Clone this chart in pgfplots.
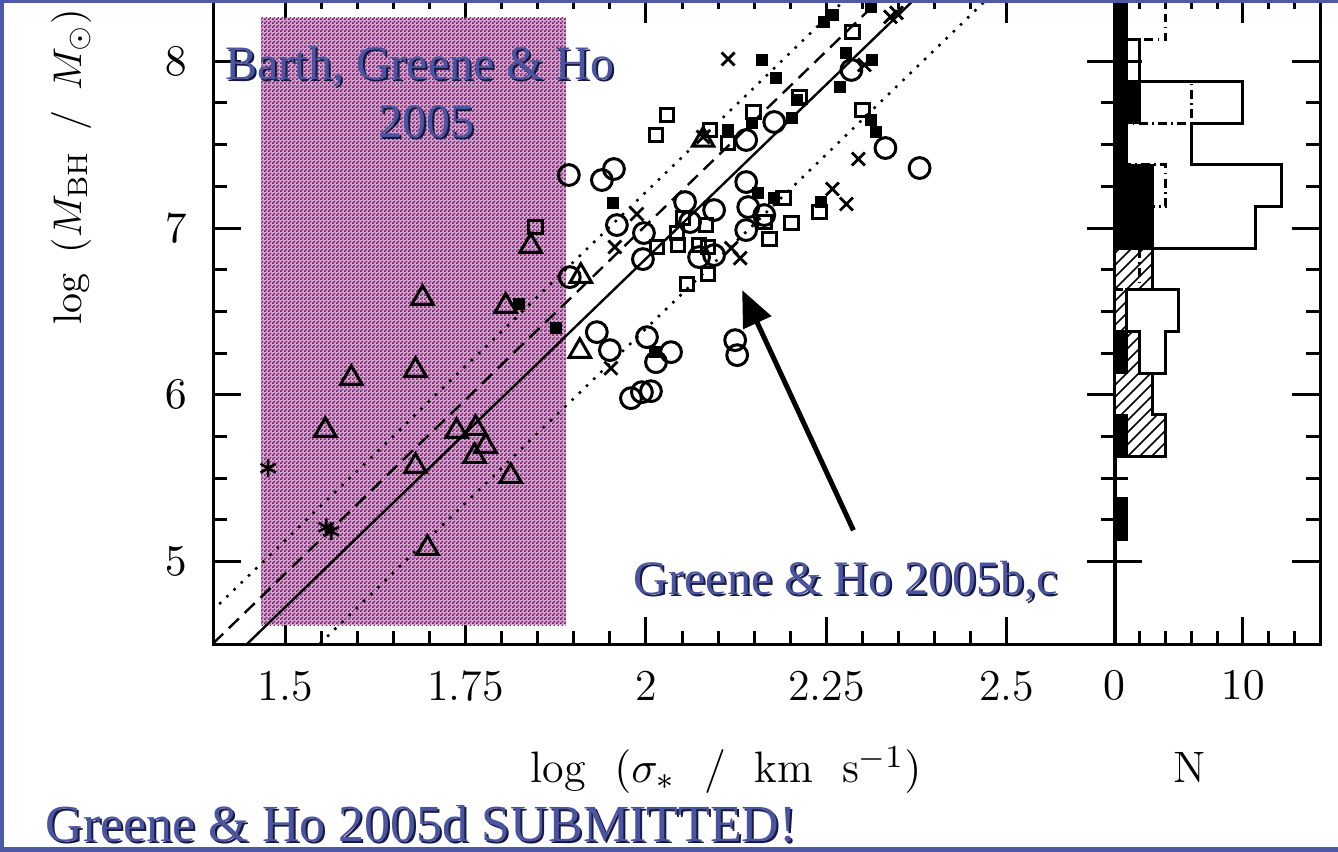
\documentclass[border=0pt]{standalone}
\usepackage{pgfplots}
\pgfplotsset{compat=1.18}
\usepackage{fontspec}
\newfontfamily\slidefont{Liberation Serif}
\usetikzlibrary{patterns,arrows.meta}

\definecolor{slideblue}{RGB}{80,88,168}
\definecolor{titleblue}{RGB}{74,84,160}
\definecolor{shadowblue}{RGB}{22,26,64}
\definecolor{checkbase}{RGB}{212,166,206}
\definecolor{checkpurple}{RGB}{118,22,108}

% fine two-colour checkerboard for the shaded sigma range
\pgfdeclarepatternformonly{finecheck}{\pgfpointorigin}{\pgfqpoint{1pt}{1pt}}{\pgfqpoint{1pt}{1pt}}{%
  \pgfpathrectangle{\pgfpointorigin}{\pgfqpoint{0.5pt}{0.5pt}}%
  \pgfpathrectangle{\pgfqpoint{0.5pt}{0.5pt}}{\pgfqpoint{0.5pt}{0.5pt}}%
  \pgfusepath{fill}}

\pgfplotsset{
  panel/.style={
    scale only axis, anchor=south west,
    ymin=4.5, ymax=8.4,
    axis line style={line width=0.75pt},
    every tick/.style={black, line width=0.75pt},
    major tick length=7pt, minor tick length=3.5pt,
    tick label style={font=\fontsize{11}{13}\selectfont},
    xticklabel style={yshift=-3pt},
    ytick={5,6,7,8}, minor y tick num=3,
  },
  circ/.style={only marks, mark=o, mark size=2.6pt, mark options={line width=0.75pt}},
  osq/.style={only marks, mark=square, mark size=1.7pt, mark options={line width=0.75pt}},
  fsq/.style={only marks, mark=square*, mark size=1.3pt, mark options={fill=black}},
  crs/.style={only marks, mark=x, mark size=2.3pt, mark options={line width=0.7pt}},
  tri/.style={only marks, mark=triangle, mark size=3.1pt, mark options={line width=0.75pt}},
  ast/.style={only marks, mark=asterisk, mark size=2.2pt, mark options={line width=0.65pt}},
  dots/.style={black, line width=0.9pt, line cap=round, dash pattern=on 0pt off 2.5pt},
}

\begin{document}
\begin{tikzpicture}
\useasboundingbox (0,0) rectangle (334.5pt,-213pt);
\fill[white] (0,0) rectangle (334.5pt,-213pt);
\begin{scope}
\clip (0,0) rectangle (334.5pt,-213pt);

% ---------------- main panel: M_BH - sigma ----------------
\begin{axis}[panel,
  at={(53.25pt,-161.25pt)}, width=225.5pt, height=162.6pt,
  xmin=1.4, xmax=2.65,
  xtick={1.5,1.75,2,2.25,2.5}, xticklabels={1.5,1.75,2,2.25,2.5},
  minor x tick num=4,
  yticklabel style={xshift=-3pt},
]
% shaded range of the low-mass sample
\addplot[draw=none, fill=checkbase, postaction={pattern=finecheck, pattern color=checkpurple}]
  coordinates {(1.4667,4.618) (1.8889,4.618) (1.8889,8.26) (1.4667,8.26)};

% fitted relation, offset relation and scatter band
\addplot[black, line width=0.6pt] coordinates {(1.40,4.309) (2.45,8.697)};
\addplot[black, line width=0.6pt, dash pattern=on 3.5pt off 2pt] coordinates {(1.40,4.509) (2.45,8.897)};
\addplot[dots] coordinates {(1.40,4.709) (2.45,9.097)};
\addplot[dots] coordinates {(1.40,3.889) (2.55,8.696)};

% filled squares
\addplot[fsq] coordinates {
(2.2597,8.278) (2.2472,8.236) (2.3125,8.326) (2.1611,8.008) (2.1806,7.900)
(2.2778,8.050) (2.3139,8.008) (2.2694,7.846) (2.2097,7.768) (2.1139,7.588)
(2.2028,7.660) (2.1472,7.630) (2.3125,7.648) (2.3194,7.576) (1.9542,7.150)
(2.1556,7.210) (2.1778,7.180) (2.2431,7.156) (2.0125,6.256) (1.8750,6.400)
(1.8236,6.544)};
% open squares
\addplot[osq] coordinates {
(2.0292,7.678) (2.0139,7.558) (2.2861,8.176) (2.2125,7.786) (2.0889,7.588)
(2.1139,7.510) (2.1486,7.696) (2.3000,7.708) (2.1903,7.180) (2.0514,7.060)
(2.0833,7.018) (2.0431,6.970) (2.1639,7.036) (2.2014,7.030) (2.2403,7.096)
(2.0153,6.886) (2.0444,6.898) (2.0736,6.898) (2.0861,6.886) (2.1708,6.934)
(2.0861,6.724) (2.0569,6.664) (1.8472,7.006)};
% open circles
\addplot[circ] coordinates {
(2.2847,7.948) (2.1389,7.528) (2.1778,7.636) (2.3319,7.480) (2.3792,7.360)
(2.1389,7.276) (1.8931,7.318) (1.9389,7.288) (1.9556,7.354) (2.0542,7.156)
(2.0944,7.108) (2.1417,7.126) (2.1639,7.078) (2.1389,6.988) (2.0611,7.036)
(1.9972,6.970) (1.9958,6.814) (1.9597,7.018) (2.0736,6.826) (2.0944,6.838)
(1.8944,6.706) (1.9319,6.376) (1.9500,6.268) (2.0014,6.346) (2.0139,6.196)
(2.0347,6.256) (2.1236,6.328) (2.1264,6.238) (1.9792,5.980) (1.9944,6.016)
(2.0069,6.022)};
% crosses
\addplot[crs] coordinates {
(2.1139,8.014) (2.3389,8.266) (2.3472,8.290) (2.3028,7.978) (2.0792,7.546)
(2.2944,7.414) (2.2583,7.234) (2.2778,7.144) (1.9875,7.084) (1.9569,6.886)
(2.1181,6.880) (2.1306,6.820) (1.9514,6.160)};
% triangles
\addplot[tri] coordinates {
(1.5917,6.100) (1.6806,6.148) (1.5556,5.788) (1.7375,5.782) (1.7639,5.800)
(1.7778,5.692) (1.7625,5.632) (1.6806,5.572) (1.8125,5.512) (1.6972,5.080)
(1.9083,6.262) (1.8056,6.532) (1.6903,6.580) (1.8403,6.892) (1.9097,6.712)
(2.0792,7.528)};
% asterisks
\addplot[ast] coordinates {(1.4764,5.560) (1.5569,5.206) (1.5639,5.182)};

% pointer to the new sample
\draw[line width=1.25pt, -{Triangle[length=9pt, width=7.5pt]}]
  (axis cs:2.2875,5.188) -- (axis cs:2.1333,6.628);
\end{axis}

% ---------------- side panel: histograms of log M_BH ----------------
\begin{axis}[panel,
  at={(278.5pt,-161.25pt)}, width=51.5pt, height=162.6pt,
  xmin=0, xmax=16,
  xtick={0,10}, minor xtick={2,4,6,8,12,14},
  yticklabels={},
]
% full sample (open outline)
\addplot[black, line width=0.75pt] coordinates {
(0,5.13) (1,5.13) (1,5.38) (0,5.38) (0,5.63) (1,5.63) (1,6.13) (4,6.13)
(4,6.38) (5,6.38) (5,6.63) (3,6.63) (3,6.88) (11,6.88) (11,7.13) (13,7.13)
(13,7.38) (6,7.38) (6,7.63) (10,7.63) (10,7.88) (2,7.88) (2,8.13) (1,8.13) (1,8.6)};
% hatched sample
\addplot[black, line width=0.75pt, fill=white, postaction={pattern=north east lines}] coordinates {
(0,5.63) (4,5.63) (4,5.88) (3,5.88) (3,6.13) (2,6.13) (2,6.38) (1,6.38)
(1,6.63) (3,6.63) (3,6.88) (0,6.88)} -- cycle;
% filled sample
\addplot[black, fill=black, line width=0.5pt] coordinates {
(0,5.13) (1,5.13) (1,5.38) (0,5.38) (0,5.63) (1,5.63) (1,5.88) (0,5.88)
(0,6.13) (1,6.13) (1,6.38) (0,6.38) (0,6.88) (3,6.88) (3,7.38) (1,7.38)
(1,7.63) (2,7.63) (2,7.88) (1,7.88) (1,8.6) (0,8.6)} -- cycle;
% dot-dashed sample
\addplot[black, line width=0.75pt, dash pattern=on 2.2pt off 1.1pt on 0.4pt off 1.1pt] coordinates {
(0,6.63) (2,6.63) (2,6.88) (3,6.88) (3,7.13) (4,7.13) (4,7.38) (1,7.38)
(1,7.63) (6,7.63) (6,7.88) (2,7.88) (2,8.13) (4,8.13) (4,8.6)};
\end{axis}

% ---------------- labels and slide text (pixel grid) ----------------
\begin{scope}[x=0.25pt, y=-0.25pt]
\node[rotate=90, anchor=base west, inner sep=0pt, font=\fontsize{10}{12}\selectfont]
  at (81,325) {$\log\ \,(M_{\mathrm{BH}}\ \,/\ \,M_{\odot})$};
\node[anchor=base, inner sep=0pt, font=\fontsize{11}{13}\selectfont]
  at (726,783) {$\log\ \ (\sigma_{*}\ \ /\ \ \mathrm{km}\ \ \mathrm{s}^{-1})$};
\node[anchor=base, inner sep=0pt, font=\fontsize{11}{13}\selectfont]
  at (1190,783) {N};

\begin{scope}[font=\slidefont\fontsize{12}{14}\selectfont, inner sep=0pt]
\node[anchor=base, text=shadowblue] at (422,82) {Barth, Greene \& Ho};
\node[anchor=base, text=titleblue] at (420,80) {Barth, Greene \& Ho};
\node[anchor=base, text=shadowblue] at (428,140) {2005};
\node[anchor=base, text=titleblue] at (426,138) {2005};
\node[anchor=base west, text=shadowblue] at (635,597) {Greene \& Ho 2005b,c};
\node[anchor=base west, text=titleblue] at (633,595) {Greene \& Ho 2005b,c};
\end{scope}
\begin{scope}[font=\slidefont\fontsize{13}{15}\selectfont, inner sep=0pt]
\node[anchor=base west, text=shadowblue] at (47,844) {Greene \& Ho 2005d SUBMITTED!};
\node[anchor=base west, text=titleblue] at (45,842) {Greene \& Ho 2005d SUBMITTED!};
\end{scope}

% slide frame
\fill[slideblue] (0,0) rectangle (4,852);
\fill[slideblue] (0,0) rectangle (1338,3);
\fill[slideblue] (0,847) rectangle (1338,852);
\end{scope}
\end{scope}
\end{tikzpicture}
\end{document}
